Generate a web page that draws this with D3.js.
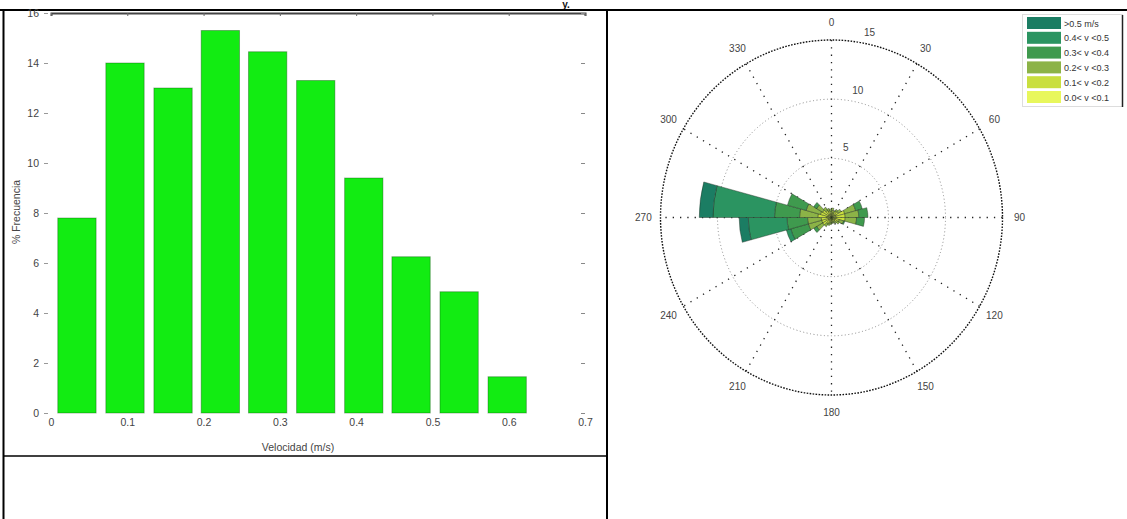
<!DOCTYPE html>
<html>
<head>
<meta charset="utf-8">
<script src="https://cdn.jsdelivr.net/npm/d3@7"></script>
<style>
  html, body { margin: 0; padding: 0; background: #fff; }
  svg { display: block; font-family: "Liberation Sans", Arial, sans-serif; }
</style>
</head>
<body>
<svg id="fig" width="1127" height="519"></svg>
<script>
// ---- Histogram of current speed ----
const speedBinCenters = [0.034, 0.097, 0.160, 0.222, 0.284, 0.347, 0.410, 0.472, 0.535, 0.598];
const speedPercent    = [7.8, 14.0, 13.0, 15.3, 14.45, 13.3, 9.4, 6.25, 4.85, 1.45];
const speedBinWidth   = 0.0628;
const xTicks = [0, 0.1, 0.2, 0.3, 0.4, 0.5, 0.6, 0.7];
const yTicks = [0, 2, 4, 6, 8, 10, 12, 14, 16];

// ---- Current rose (percent of records per 15° sector, by speed class) ----
const sectorStarts = [0, 15, 30, 45, 60, 75, 90, 105, 120, 135, 150, 165,
                      180, 195, 210, 225, 240, 255, 270, 285, 300, 315, 330, 345];
// speed classes, innermost first
const classLabels = ["0.0< v <0.1", "0.1< v <0.2", "0.2< v <0.3", "0.3< v <0.4", "0.4< v <0.5", ">0.5 m/s"];
const classColors = ["#e8f75c", "#c9df3e", "#8cb347", "#3f9a4e", "#2b9461", "#1b7d63"];
const class00_01 = [0.3, 0.2, 0.3, 0.3, 0.4, 0.4, 0.4, 0.3, 0.3, 0.2, 0.2, 0.2, 0.2, 0.2, 0.3, 0.3, 0.3, 0.3, 0.4, 0.3, 0.3, 0.3, 0.3, 0.3];
const class01_02 = [0.3, 0.2, 0.3, 0.4, 0.8, 0.8, 0.8, 0.4, 0.3, 0.2, 0.2, 0.2, 0.2, 0.3, 0.3, 0.6, 0.6, 0.6, 0.8, 0.7, 0.6, 0.4, 0.3, 0.2];
const class02_03 = [0.2, 0.2, 0.2, 0.3, 1.0, 1.2, 1.0, 0.4, 0.2, 0.2, 0.1, 0.1, 0.2, 0.2, 0.3, 0.6, 1.2, 1.2, 1.6, 1.3, 0.6, 0.3, 0.2, 0.2];
const class03_04 = [0.0, 0.0, 0.0, 0.0, 0.6, 0.8, 0.7, 0.1, 0.0, 0.0, 0.0, 0.0, 0.0, 0.0, 0.0, 0.3, 1.6, 1.8, 2.2, 1.7, 0.3, 0.0, 0.0, 0.0];
const class04_05 = [0.0, 0.0, 0.0, 0.0, 0.0, 0.0, 0.0, 0.0, 0.0, 0.0, 0.0, 0.0, 0.0, 0.0, 0.0, 0.0, 0.4, 3.4, 5.4, 0.0, 0.0, 0.0, 0.0, 0.0];
const class05_up  = [0.0, 0.0, 0.0, 0.0, 0.0, 0.0, 0.0, 0.0, 0.0, 0.0, 0.0, 0.0, 0.0, 0.0, 0.0, 0.0, 0.0, 0.8, 1.2, 0.0, 0.0, 0.0, 0.0, 0.0];
const roseRings = [5, 10, 15];
const roseAngleLabels = [0, 30, 60, 90, 120, 150, 180, 210, 240, 270, 300, 330];

const svg = d3.select("#fig");

// ---- table frame around the figures ----
svg.append("text").attr("x", 566).attr("y", 8).attr("font-size", 10).attr("font-weight", "bold")
  .attr("fill", "#111").attr("text-anchor", "middle").text("y.");
svg.append("line").attr("x1", 0).attr("x2", 1127).attr("y1", 10).attr("y2", 10).attr("stroke", "#000").attr("stroke-width", 2);
svg.append("line").attr("x1", 3.5).attr("x2", 3.5).attr("y1", 10).attr("y2", 519).attr("stroke", "#000").attr("stroke-width", 2);
svg.append("line").attr("x1", 607).attr("x2", 607).attr("y1", 10).attr("y2", 519).attr("stroke", "#000").attr("stroke-width", 2);
svg.append("line").attr("x1", 3).attr("x2", 607).attr("y1", 456).attr("y2", 456).attr("stroke", "#000").attr("stroke-width", 1.5);

// ================= histogram =================
const x = d3.scaleLinear().domain([0, 0.7]).range([51, 585]);
const y = d3.scaleLinear().domain([0, 16]).range([413, 13]);
const hist = svg.append("g");

hist.selectAll("rect.bar").data(speedBinCenters).join("rect")
  .attr("class", "bar")
  .attr("x", d => x(d - speedBinWidth * 0.4))
  .attr("width", d => x(d + speedBinWidth * 0.4) - x(d - speedBinWidth * 0.4))
  .attr("y", (d, i) => y(speedPercent[i]))
  .attr("height", (d, i) => y(0) - y(speedPercent[i]))
  .attr("fill", "#12ec12")
  .attr("stroke", "#0a3a0a").attr("stroke-opacity", 0.35).attr("stroke-width", 1);

// box: top edge with ticks, bottom/left/right ticks only
const axTop = hist.append("g").attr("transform", `translate(0,${y(16)})`)
  .call(d3.axisTop(x).tickValues(xTicks).tickSize(-3).tickFormat(""));
axTop.select(".domain").attr("stroke", "#444").attr("stroke-width", 2);
axTop.selectAll(".tick line").attr("stroke", "#666");

const axBottom = hist.append("g").attr("transform", `translate(0,${y(0)})`)
  .call(d3.axisBottom(x).tickValues(xTicks).tickSize(0).tickPadding(6).tickFormat(d => d === 0 ? "0" : d3.format(".1f")(d)));
axBottom.select(".domain").remove();
axBottom.selectAll("text").attr("font-size", 10.5).attr("fill", "#444").attr("font-family", "Liberation Sans, Arial");

const axLeft = hist.append("g").attr("transform", `translate(${x(0) - 8},0)`)
  .call(d3.axisLeft(y).tickValues(yTicks).tickSize(0).tickPadding(4).tickFormat(d3.format("d")));
axLeft.select(".domain").remove();
axLeft.selectAll("text").attr("font-size", 10.5).attr("fill", "#444").attr("font-family", "Liberation Sans, Arial");

const axLeftTicks = hist.append("g").attr("transform", `translate(${x(0) - 3},0)`)
  .call(d3.axisLeft(y).tickValues(yTicks).tickSize(4).tickFormat(""));
axLeftTicks.select(".domain").remove();
axLeftTicks.selectAll(".tick line").attr("stroke", "#999");

const axRight = hist.append("g").attr("transform", `translate(${x(0.7)},0)`)
  .call(d3.axisLeft(y).tickValues(yTicks).tickSize(4).tickFormat(""));
axRight.select(".domain").remove();
axRight.selectAll(".tick line").attr("stroke", "#888");

hist.append("text").attr("x", 298).attr("y", 451).attr("text-anchor", "middle")
  .attr("font-size", 10.5).attr("fill", "#444").text("Velocidad (m/s)");
hist.append("text").attr("transform", "translate(20,212) rotate(-90)").attr("text-anchor", "middle")
  .attr("font-size", 10.5).attr("fill", "#444").text("% Frecuencia");

// ================= current rose =================
const cx = 831.5, cy = 217.5, yStretch = 1.038;
const r = d3.scaleLinear().domain([0, 15]).range([0, 171]);
const rose = svg.append("g").attr("transform", `translate(${cx},${cy}) scale(1,${yStretch})`);
const rad = a => a * Math.PI / 180;

// grid rings
rose.selectAll("circle.ring").data(roseRings.slice(0, -1)).join("circle")
  .attr("class", "ring").attr("r", d => r(d)).attr("fill", "none")
  .attr("stroke", "#8a8a8a").attr("stroke-width", 1).attr("stroke-dasharray", "1,2.5")
  .attr("vector-effect", "non-scaling-stroke");
rose.append("circle").attr("r", r(15)).attr("fill", "none")
  .attr("stroke", "#111").attr("stroke-width", 1.4).attr("stroke-dasharray", "1.6,1.4")
  .attr("vector-effect", "non-scaling-stroke");

// spokes every 30°
rose.selectAll("line.spoke").data(d3.range(0, 180, 30)).join("line")
  .attr("class", "spoke")
  .attr("x1", d => r(15) * Math.sin(rad(d))).attr("y1", d => -r(15) * Math.cos(rad(d)))
  .attr("x2", d => -r(15) * Math.sin(rad(d))).attr("y2", d => r(15) * Math.cos(rad(d)))
  .attr("stroke", "#222").attr("stroke-width", 1.3).attr("stroke-dasharray", "1.3,6")
  .attr("vector-effect", "non-scaling-stroke");

// stacked petals
const classSeries = [class00_01, class01_02, class02_03, class03_04, class04_05, class05_up];
const petals = [];
sectorStarts.forEach((a0, i) => {
  let acc = 0;
  classSeries.forEach((series, k) => {
    const v = series[i];
    if (v > 0) petals.push({ a0, a1: a0 + 15, r0: acc, r1: acc + v, k });
    acc += v;
  });
});
const arc = d3.arc()
  .innerRadius(d => r(d.r0)).outerRadius(d => r(d.r1))
  .startAngle(d => rad(d.a0)).endAngle(d => rad(d.a1));
rose.selectAll("path.petal").data(petals).join("path")
  .attr("class", "petal").attr("d", arc)
  .attr("fill", d => classColors[d.k])
  .attr("stroke", "#1c2a1c").attr("stroke-width", 0.6).attr("stroke-opacity", 0.7)
  .attr("vector-effect", "non-scaling-stroke");

// angle labels
const labG = svg.append("g").attr("font-size", 10).attr("fill", "#444").attr("text-anchor", "middle");
labG.selectAll("text.ang").data(roseAngleLabels).join("text")
  .attr("class", "ang")
  .attr("x", d => cx + r(15) * 1.1 * Math.sin(rad(d)))
  .attr("y", d => cy - r(15) * yStretch * 1.1 * Math.cos(rad(d)) + 3.5)
  .text(d => d);
// ring labels
labG.selectAll("text.rlab").data(roseRings).join("text")
  .attr("class", "rlab")
  .attr("x", d => cx + (r(d) + 12) * Math.sin(rad(12)))
  .attr("y", d => cy - (r(d) * yStretch + 12) * Math.cos(rad(12)) + 3.5)
  .text(d => d);

// legend
const leg = svg.append("g");
leg.append("rect").attr("x", 1022.5).attr("y", 14.5).attr("width", 100).attr("height", 92)
  .attr("fill", "#fff").attr("stroke", "#ddd").attr("stroke-width", 1);
leg.append("line").attr("x1", 1122.5).attr("x2", 1122.5).attr("y1", 15).attr("y2", 107)
  .attr("stroke", "#222").attr("stroke-width", 1.5);
const legOrder = d3.range(classLabels.length).reverse();
legOrder.forEach((k, row) => {
  const yy = 17 + row * 14.8;
  leg.append("rect").attr("x", 1027).attr("y", yy).attr("width", 34).attr("height", 12)
    .attr("fill", classColors[k]);
  leg.append("text").attr("x", 1064).attr("y", yy + 9.5).attr("font-size", 9).attr("fill", "#333")
    .text(classLabels[k]);
});
</script>
</body>
</html>
